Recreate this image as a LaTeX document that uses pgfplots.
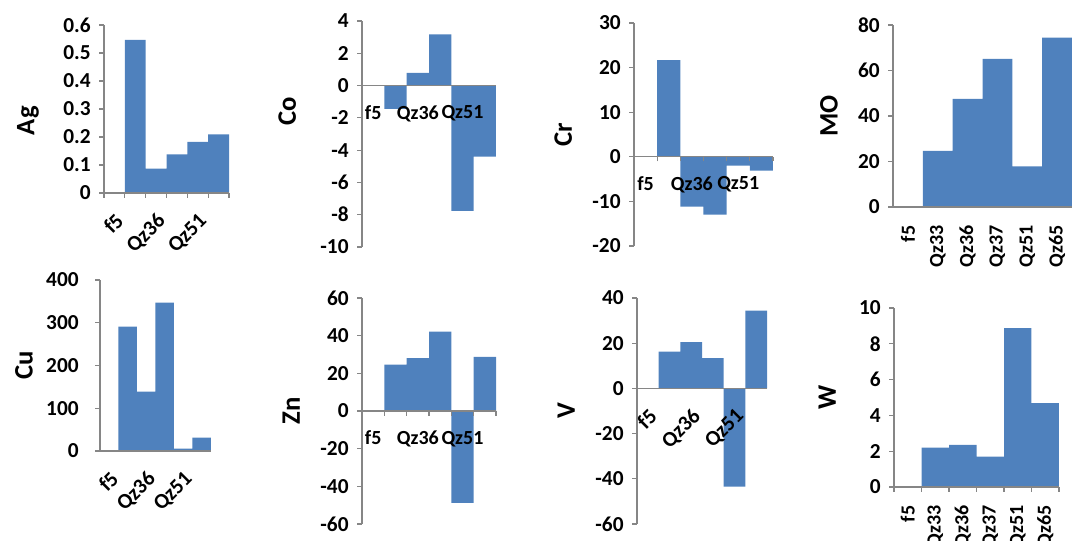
\documentclass[border=0pt]{standalone}
\usepackage{fontspec}
\setmainfont{Carlito}
\usepackage{pgfplots}
\pgfplotsset{compat=1.18}

\definecolor{barblue}{HTML}{4F81BD}
\definecolor{axisgray}{HTML}{868686}

\pgfplotsset{
  panel/.style={
    scale only axis, anchor=south west, clip=false, axis on top,
    axis y line=left, axis x line=middle,
    axis line style={-, draw=axisgray, line width=0.8pt},
    hide obscured x ticks=false, hide obscured y ticks=false,
    xmin=-0.5, xmax=5.5,
    tick align=outside,
    major tick length=3.5pt, minor tick length=3.5pt,
    y tick style={draw=axisgray, line width=0.8pt},
    major x tick style={draw=none},
    minor x tick style={draw=axisgray, line width=0.8pt},
    xtick={0,2,4}, xticklabels={f5,Qz36,Qz51},
    xticklabel style={font=\bfseries\fontsize{15}{15}\selectfont, text=black},
    yticklabel style={font=\bfseries\fontsize{16}{16}\selectfont, text=black,
      /pgf/number format/fixed},
    /pgf/number format/assume math mode=true,
    yticklabel shift=3pt,
    xticklabel shift=8pt,
    ylabel style={at={(axis description cs:0,0.5)}, anchor=center,
      font=\bfseries\fontsize{20}{20}\selectfont},
  },
  withticks/.style={minor xtick={-0.5,0.5,...,5.5}},
  rot45/.style={xticklabel shift=9pt,
    xticklabel style={rotate=45, anchor=north east, inner sep=1pt,
      font=\bfseries\fontsize{16}{16}\selectfont}},
  rot90/.style={xtick={0,...,5}, xticklabels={f5,Qz33,Qz36,Qz37,Qz51,Qz65},
    xticklabel shift=7pt,
    xticklabel style={rotate=90, anchor=east}},
  bars/.style={ybar, bar width=1, fill=barblue, draw=none},
}

\begin{document}
\begin{tikzpicture}
\path[use as bounding box] (0,0) rectangle (804pt,405.75pt);

% Ag
\begin{axis}[panel, withticks, rot45,
  at={(78pt,261pt)}, width=93.75pt, height=126pt,
  ymin=0, ymax=0.6, ytick={0,0.1,0.2,0.3,0.4,0.5,0.6},
  ylabel={Ag}, ylabel style={at={(axis description cs:0,0.43)}, yshift=57pt}]
\addplot[bars] coordinates {(0,0) (1,0.547) (2,0.087) (3,0.138) (4,0.183) (5,0.209)};
\end{axis}

% Co
\begin{axis}[panel,
  at={(271.5pt,220.5pt)}, width=100.5pt, height=169.5pt,
  ymin=-10, ymax=4, ytick={-10,-8,-6,-4,-2,0,2,4},
  ylabel={Co}, ylabel style={at={(axis description cs:0,0.6)}, yshift=56pt}]
\addplot[bars] coordinates {(0,0) (1,-1.45) (2,0.79) (3,3.17) (4,-7.76) (5,-4.4)};
\end{axis}

% Cr
\begin{axis}[panel, withticks,
  at={(475.5pt,221.25pt)}, width=104.25pt, height=167.25pt,
  ymin=-20, ymax=30, ytick={-20,-10,0,10,20,30},
  ylabel={Cr}, ylabel style={yshift=53pt}]
\addplot[bars] coordinates {(0,0) (1,21.7) (2,-11.2) (3,-12.95) (4,-2.0) (5,-3.1)};
\end{axis}

% MO
\begin{axis}[panel, rot90,
  at={(669.75pt,250.5pt)}, width=134.25pt, height=136.5pt,
  ymin=0, ymax=80, ytick={0,20,40,60,80},
  ylabel={MO}, ylabel style={yshift=48pt}]
\addplot[bars] coordinates {(0,0) (1,24.7) (2,47.5) (3,65.1) (4,17.8) (5,74.4)};
\end{axis}

% Cu
\begin{axis}[panel, rot45,
  at={(75pt,67.5pt)}, width=83.25pt, height=128.25pt,
  ymin=0, ymax=400, ytick={0,100,200,300,400},
  yticklabel shift=9pt,
  ylabel={Cu}, ylabel style={yshift=57pt}]
\addplot[bars] coordinates {(0,0) (1,291) (2,139) (3,347) (4,5.4) (5,31)};
\end{axis}

% Zn
\begin{axis}[panel, withticks,
  at={(271.5pt,12.75pt)}, width=100.5pt, height=169.5pt,
  ymin=-60, ymax=60, ytick={-60,-40,-20,0,20,40,60},
  ylabel={Zn}, ylabel style={yshift=53pt}]
\addplot[bars] coordinates {(0,0) (1,24.6) (2,28.1) (3,42.2) (4,-48.8) (5,28.7)};
\end{axis}

% V
\begin{axis}[panel, rot45,
  at={(477.75pt,12.75pt)}, width=97.5pt, height=169.5pt,
  ymin=-60, ymax=40, ytick={-60,-40,-20,0,20,40},
  ylabel={V}, ylabel style={yshift=53pt}]
\addplot[bars] coordinates {(0,0) (1,16.3) (2,20.5) (3,13.4) (4,-43.5) (5,34.4)};
\end{axis}

% W
\begin{axis}[panel, withticks, rot90,
  at={(670.5pt,40.5pt)}, width=123.75pt, height=134.25pt,
  ymin=0, ymax=10, ytick={0,2,4,6,8,10},
  ylabel={W}, ylabel style={yshift=50pt}]
\addplot[bars] coordinates {(0,0) (1,2.2) (2,2.35) (3,1.7) (4,8.88) (5,4.68)};
\end{axis}

\end{tikzpicture}
\end{document}
